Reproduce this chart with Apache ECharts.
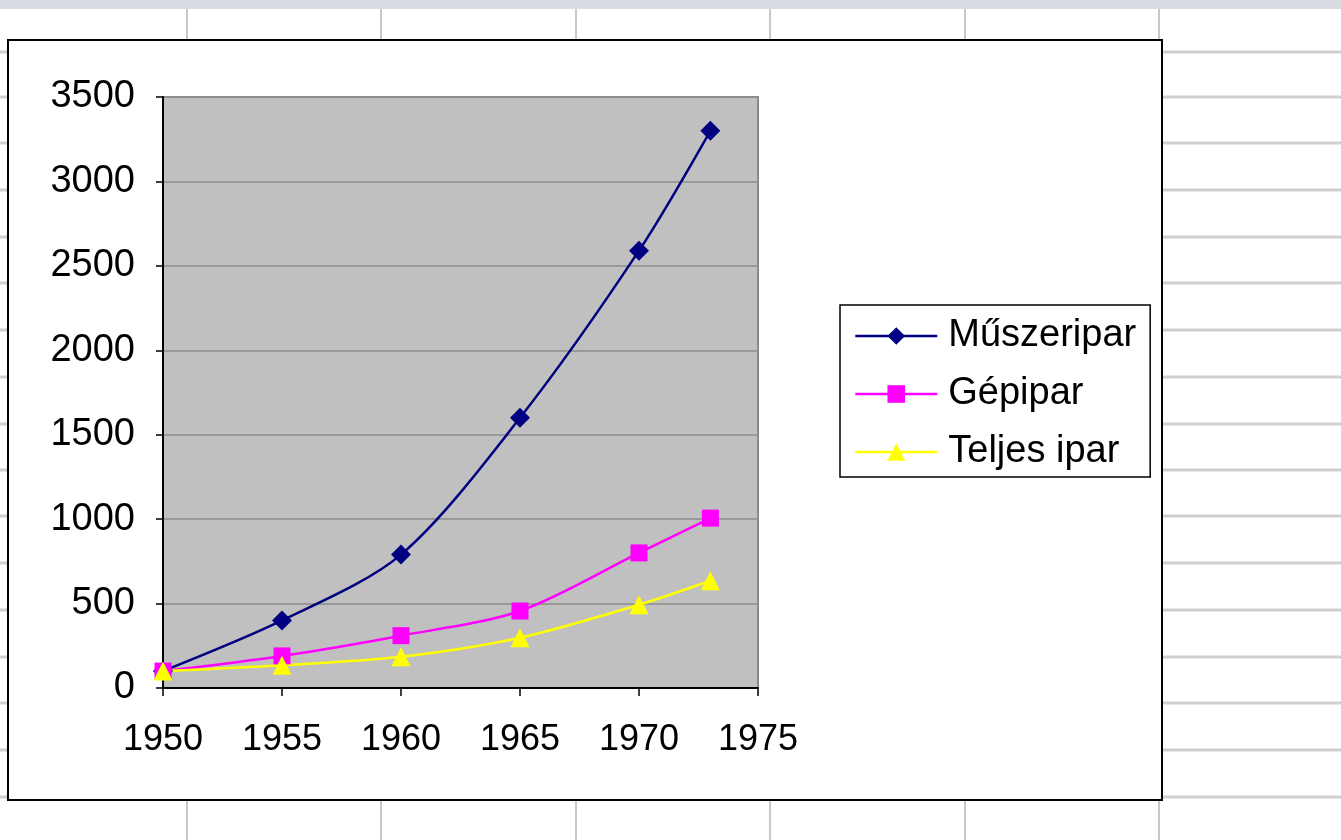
<!DOCTYPE html>
<html>
<head>
<meta charset="utf-8">
<script src="https://cdn.jsdelivr.net/npm/echarts@6/dist/echarts.min.js"></script>
<style>
  html, body { margin: 0; padding: 0; background: #fff; }
  #chart { width: 1341px; height: 840px; }
</style>
</head>
<body>
<div id="chart"></div>
<script>
// adatok
var years = [1950, 1955, 1960, 1965, 1970, 1973];
var muszeripar = [100, 400, 790, 1600, 2590, 3300];
var gepipar = [100, 190, 310, 456, 800, 1006];
var teljesIpar = [100, 135, 185, 298, 493, 635];
var seriesNames = ['Műszeripar', 'Gépipar', 'Teljes ipar'];

// táblázat háttér vonalai (csak díszítés)
var sheetCols = [187, 381, 576, 770, 965, 1159];
var sheetRows = [52, 97, 143, 190, 237, 283, 330, 377, 424, 470, 516, 563, 610, 657, 703, 750, 797];

function pairs(ys) {
    var res = [];
    for (var i = 0; i < years.length; i++) {
        res.push([years[i], ys[i]]);
    }
    return res;
}

var myChart = echarts.init(document.getElementById('chart'));

var graphics = [];
graphics.push({
    type: 'rect', z: -20, silent: true,
    shape: {x: 0, y: 0, width: 1341, height: 9},
    style: {fill: '#d9dde3'}
});
sheetCols.forEach(function (x) {
    graphics.push({
        type: 'line', z: -20, silent: true,
        shape: {x1: x, y1: 9, x2: x, y2: 840},
        style: {stroke: '#c9c9c9', lineWidth: 2}
    });
});
sheetRows.forEach(function (y) {
    graphics.push({
        type: 'line', z: -20, silent: true,
        shape: {x1: 0, y1: y, x2: 1341, y2: y},
        style: {stroke: '#cfcfcf', lineWidth: 3}
    });
});
// diagram keret
graphics.push({
    type: 'rect', z: -10, silent: true,
    shape: {x: 8, y: 40, width: 1154, height: 760},
    style: {fill: '#ffffff', stroke: '#000000', lineWidth: 2}
});

var option = {
    animation: false,
    textStyle: {fontFamily: 'Liberation Sans, Arial, sans-serif'},
    graphic: graphics,
    grid: {
        left: 163, top: 97, width: 595, height: 591,
        show: true,
        backgroundColor: '#c0c0c0',
        borderColor: '#8a8a8a',
        borderWidth: 2
    },
    legend: {
        orient: 'vertical',
        left: 840, top: 305,
        padding: [12, 14, 6, 14],
        itemGap: 20,
        itemWidth: 82,
        itemHeight: 22,
        borderColor: '#000',
        borderWidth: 1.5,
        backgroundColor: '#fff',
        lineStyle: {width: 2.5},
        textStyle: {fontSize: 38, color: '#000', padding: [0, 0, 0, 6]},
        data: seriesNames
    },
    xAxis: {
        type: 'value',
        min: 1950, max: 1975, interval: 5,
        splitLine: {show: false},
        axisLine: {show: true, onZero: false, lineStyle: {color: '#000', width: 2}},
        axisTick: {show: true, length: 8, lineStyle: {color: '#000', width: 1.5}},
        axisLabel: {fontSize: 36, color: '#000', margin: 34, formatter: function (v) { return String(v); }}
    },
    yAxis: {
        type: 'value',
        min: 0, max: 3500, interval: 500,
        splitLine: {show: true, lineStyle: {color: '#8c8c8c', width: 1.5}},
        axisLine: {show: true, lineStyle: {color: '#000', width: 2}},
        axisTick: {show: true, length: 7, lineStyle: {color: '#000', width: 1.5}},
        axisLabel: {fontSize: 38, color: '#000', margin: 28, formatter: function (v) { return String(v); }}
    },
    series: [
        {
            name: seriesNames[0], type: 'line', smooth: 0.3,
            data: pairs(muszeripar),
            symbol: 'diamond', symbolSize: 20,
            itemStyle: {color: '#000080'},
            lineStyle: {color: '#000080', width: 2.5}
        },
        {
            name: seriesNames[1], type: 'line', smooth: 0.3,
            data: pairs(gepipar),
            symbol: 'rect', symbolSize: 17,
            itemStyle: {color: '#ff00ff'},
            lineStyle: {color: '#ff00ff', width: 2.5}
        },
        {
            name: seriesNames[2], type: 'line', smooth: 0.3,
            data: pairs(teljesIpar),
            symbol: 'triangle', symbolSize: 19,
            itemStyle: {color: '#ffff00'},
            lineStyle: {color: '#ffff00', width: 2.5}
        }
    ]
};

myChart.setOption(option);
window.addEventListener("resize", function () {
    myChart.resize();
});
</script>
</body>
</html>
